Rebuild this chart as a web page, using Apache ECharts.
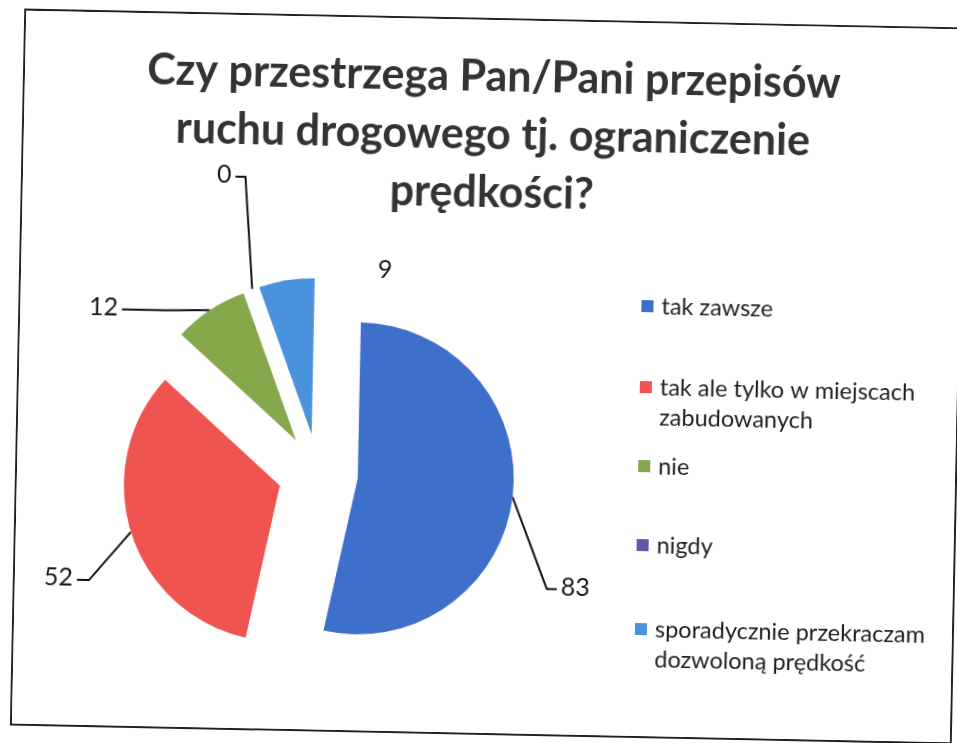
<!DOCTYPE html>
<html>
<head>
<meta charset="utf-8">
<script src="https://cdn.jsdelivr.net/npm/echarts@6/dist/echarts.min.js"></script>
<style>
  html, body { margin: 0; padding: 0; background: #fff; width: 957px; height: 743px; overflow: hidden; }
  /* printed sheet sits slightly askew */
  #sheet {
    position: absolute; left: 17px; top: 18px; width: 942px; height: 717px;
    box-sizing: border-box; border: 2px solid #222; background: #fff;
    transform: rotate(1.15deg); transform-origin: 50% 50%;
  }
  #chart { width: 100%; height: 100%; }
</style>
</head>
<body>
<div id="sheet"><div id="chart"></div></div>
<script>
const titleLines = [
  'Czy przestrzega Pan/Pani przepisów',
  'ruchu drogowego tj. ograniczenie',
  'prędkości?'
];
const categories = [
  'tak zawsze',
  'tak ale tylko w miejscach zabudowanych',
  'nie',
  'nigdy',
  'sporadycznie przekraczam dozwoloną prędkość'
];
const legendLabels = [
  'tak zawsze',
  'tak ale tylko w miejscach\nzabudowanych',
  'nie',
  'nigdy',
  'sporadycznie przekraczam\ndozwoloną prędkość'
];
const values = [83, 52, 12, 0, 9];
const colors = ['#3e6fcb', '#ef5450', '#84a84a', '#6a55a8', '#4a92dc'];

// leader line shapes: bend from the arc anchor, then a horizontal tail
const guideBend = [[36, 91], [-41, 49], [-45, 1], [-9, -112], null];
const guideTail = [10, -12, -43, -10, 0];
// label without a leader: offset from its arc anchor
const freeLabelOffset = [91, -12];

// legend rows; two-line rows get a blank leading line so the marker sits on the first line
const legendTops = [268, 319, 428, 507, 561];
const LINE_H = 30;
const TITLE_TOP = 28;
const TITLE_LINE_H = 58;

const chart = echarts.init(document.getElementById('chart'), null, { renderer: 'canvas' });

const legends = categories.map((name, i) => {
  const twoLines = legendLabels[i].indexOf('\n') >= 0;
  return {
    orient: 'vertical',
    left: 621,
    top: legendTops[i],
    padding: 0,
    itemWidth: 12,
    itemHeight: 12,
    icon: 'rect',
    selectedMode: false,
    data: [name],
    formatter: () => (twoLines ? '\n' : '') + legendLabels[i],
    textStyle: {
      fontFamily: 'Lato',
      fontSize: 23.5,
      color: '#1e1e1e',
      lineHeight: LINE_H,
      padding: [0, 0, 0, 3]
    }
  };
});

const titles = titleLines.map((line, i) => ({
  text: line,
  left: 'center',
  top: TITLE_TOP + i * TITLE_LINE_H,
  padding: 0,
  textStyle: {
    fontFamily: 'Lato',
    fontWeight: 'bold',
    fontSize: 43,
    lineHeight: TITLE_LINE_H,
    color: '#333'
  }
}));

chart.setOption({
  animation: false,
  backgroundColor: '#fff',
  title: titles,
  legend: legends,
  series: [{
    type: 'pie',
    center: [301, 457],
    radius: 156,
    startAngle: 90,
    clockwise: true,
    selectedMode: 'multiple',
    selectedOffset: 40,
    avoidLabelOverlap: false,
    emphasis: { disabled: true },
    data: categories.map((name, i) => ({
      name: name,
      value: values[i],
      selected: true,
      itemStyle: { color: colors[i] },
      labelLine: guideBend[i] ? undefined : { lineStyle: { opacity: 0 } }
    })),
    label: {
      show: true,
      position: 'outside',
      formatter: '{c}',
      fontFamily: 'Lato',
      fontSize: 25,
      color: '#1a1a1a'
    },
    labelLine: {
      show: true,
      length: 15,
      length2: 15,
      lineStyle: { color: '#111', width: 2 }
    },
    labelLayout: function (p) {
      const pts = p.labelLinePoints;
      const r = p.labelRect;
      if (!pts || !r) return {};
      const i = p.dataIndex;
      const a = pts[0];
      if (guideBend[i]) {
        const b = [a[0] + guideBend[i][0], a[1] + guideBend[i][1]];
        const c = [b[0] + guideTail[i], b[1]];
        const tx = guideTail[i] > 0 ? c[0] + 4 : c[0] - 4 - r.width;
        const ty = c[1] - 2 - r.height / 2;
        return { labelLinePoints: [a, b, c], dx: tx - r.x, dy: ty - r.y };
      }
      const tx = a[0] + freeLabelOffset[0];
      const ty = a[1] + freeLabelOffset[1] - r.height / 2;
      return { labelLinePoints: [a, a, a], dx: tx - r.x, dy: ty - r.y };
    }
  }]
});
</script>
</body>
</html>
